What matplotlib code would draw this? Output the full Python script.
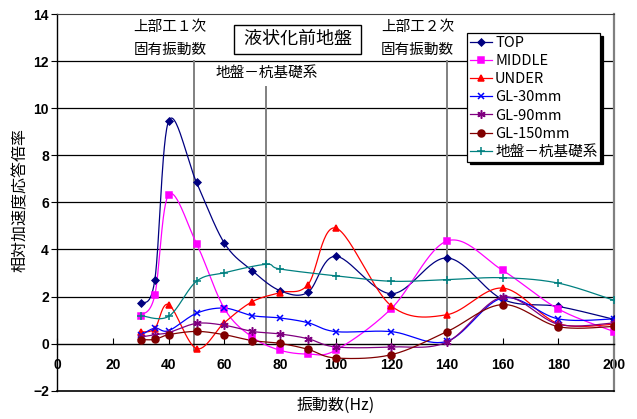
import matplotlib
matplotlib.use("Agg")
import matplotlib.pyplot as plt
import numpy as np
from matplotlib.lines import Line2D

plt.rcParams['font.family'] = ['Noto Sans CJK JP', 'DejaVu Sans']

# -----------------------------
# Data (frequency Hz -> relative acceleration response ratio)
# -----------------------------
freq = [30, 35, 40, 50, 60, 70, 80, 90, 100, 120, 140, 160, 180, 200]

top = [1.71, 2.69, 9.46, 6.85, 4.27, 3.10, 2.25, 2.18, 3.71, 2.12, 3.64, 1.88, 1.58, 1.03]
middle = [1.19, 2.05, 6.33, 4.25, 1.49, 0.28, -0.28, -0.44, -0.28, 1.49, 4.36, 3.11, 1.47, 0.51]
under = [0.49, 0.64, 1.66, -0.21, 0.89, 1.78, 2.17, 2.50, 4.91, 1.60, 1.23, 2.36, 0.85, 0.82]
gl30 = [0.35, 0.66, 0.55, 1.29, 1.51, 1.19, 1.09, 0.89, 0.51, 0.51, 0.10, 1.94, 1.05, 1.05]
gl90 = [0.28, 0.38, 0.47, 0.86, 0.78, 0.52, 0.41, 0.21, -0.14, -0.14, 0.07, 1.98, 0.82, 0.88]
gl150 = [0.17, 0.18, 0.38, 0.52, 0.38, 0.13, 0.01, -0.24, -0.61, -0.47, 0.51, 1.66, 0.72, 0.73]

pile_freq = [30, 40, 50, 60, 75, 80, 100, 120, 140, 160, 180, 200]
pile = [1.19, 1.16, 2.65, 3.01, 3.37, 3.17, 2.88, 2.65, 2.72, 2.80, 2.57, 1.84]

# reference frequencies (vertical lines)
mode1_freq = 49
ground_freq = 75
mode2_freq = 140

xticks = list(range(0, 201, 20))
yticks = list(range(-2, 15, 2))


def smooth(x, y, n=30):
    # piecewise Bezier through the points (spreadsheet-style smoothed line)
    p = np.column_stack([x, y]).astype(float)
    p_ext = np.vstack([p[0], p, p[-1]])
    out = [p[:1]]
    t = np.linspace(0, 1, n)[1:, None]
    for i in range(len(p) - 1):
        p0, p1 = p_ext[i + 1], p_ext[i + 2]
        c1 = p0 + (p_ext[i + 2] - p_ext[i]) / 6
        c2 = p1 - (p_ext[i + 3] - p_ext[i + 1]) / 6
        seg = ((1 - t) ** 3) * p0 + 3 * ((1 - t) ** 2) * t * c1 \
            + 3 * (1 - t) * t ** 2 * c2 + t ** 3 * p1
        out.append(seg)
    c = np.vstack(out)
    return c[:, 0], c[:, 1]


series = [
    ("TOP", freq, top, '#000080', 'D', 3.5),
    ("MIDDLE", freq, middle, '#FF00FF', 's', 5),
    ("UNDER", freq, under, '#FF0000', '^', 5),
    ("GL-30mm", freq, gl30, '#0000FF', 'x', 5),
    ("GL-90mm", freq, gl90, '#800080', (6, 2, 0), 6),
    ("GL-150mm", freq, gl150, '#800000', 'o', 5),
    ("地盤－杭基礎系", pile_freq, pile, '#008080', '+', 6),
]

# -----------------------------
# Figure
# -----------------------------
fig = plt.figure(figsize=(6.37, 4.19), dpi=100)
ax = fig.add_axes([0.09, 0.0675, 0.874, 0.899])

ax.set_xlim(0, 200)
ax.set_ylim(-2, 14)

for yv in yticks[2:-1]:
    ax.axhline(yv, color='black', lw=0.9, zorder=1)

# reference lines
ax.plot([mode1_freq, mode1_freq], [-0.25, 12], color='#808080', lw=1.4, zorder=1)
ax.plot([ground_freq, ground_freq], [0, 10.9], color='#808080', lw=1.4, zorder=1)
ax.plot([mode2_freq, mode2_freq], [0, 12], color='#808080', lw=1.4, zorder=1)

handles = []
for name, xs, ys, col, mk, ms in series:
    sx, sy = smooth(xs, ys)
    ax.plot(sx, sy, color=col, lw=0.9, zorder=3)
    ax.plot(xs, ys, ls='none', marker=mk, color=col, ms=ms, mew=1.1, zorder=4)
    handles.append(Line2D([0], [0], color=col, lw=0.9, marker=mk, ms=ms, mew=1.1, label=name))

# axes frame
ax.spines['bottom'].set_position(('data', 0))
ax.spines['bottom'].set_linewidth(1.0)
ax.spines['left'].set_linewidth(1.0)
ax.spines['top'].set_color('#404040')
ax.spines['right'].set_color('#808080')
ax.spines['right'].set_linewidth(1.6)
ax.axhline(-2, color='black', lw=1.2, clip_on=False, zorder=5)

ax.set_xticks(xticks)
ax.set_yticks(yticks)
ax.tick_params(axis='x', direction='in', length=4, width=0.8, pad=10)
ax.tick_params(axis='y', direction='out', length=4, width=0.8, pad=2)
for lab in ax.get_xticklabels() + ax.get_yticklabels():
    lab.set_fontfamily('Liberation Sans')
    lab.set_fontweight('bold')
    lab.set_fontsize(10)

# annotations
ax.text(40.5, 13.43, "上部工１次", ha='center', va='center', fontsize=10.5)
ax.text(40.5, 12.49, "固有振動数", ha='center', va='center', fontsize=10.5)
ax.text(129.4, 13.43, "上部工２次", ha='center', va='center', fontsize=10.5)
ax.text(129.4, 12.49, "固有振動数", ha='center', va='center', fontsize=10.5)
ax.text(75.2, 11.5, "地盤－杭基礎系", ha='center', va='center', fontsize=10.5)
ax.text(86.4, 12.93, " 液状化前地盤 ", ha='center', va='center', fontsize=13,
        bbox=dict(boxstyle='square,pad=0.3', facecolor='white', edgecolor='black', lw=1.0),
        zorder=6)

fig.text(0.032, 0.523, "相対加速度応答倍率", rotation=90, ha='center', va='center', fontsize=11.5)
fig.text(0.527, 0.033, "振動数(Hz)", ha='center', va='center', fontsize=11.5)

leg = ax.legend(handles=handles, loc='upper left', bbox_to_anchor=(0.7336, 0.9205),
                bbox_transform=fig.transFigure, borderaxespad=0, fontsize=10.5,
                frameon=True, fancybox=False, edgecolor='black', framealpha=1,
                shadow={'color': 'black', 'alpha': 1, 'ox': 2, 'oy': -2},
                handlelength=1.5, handletextpad=0.2, labelspacing=0.28,
                borderpad=0.2)
leg.get_frame().set_linewidth(0.9)
leg.set_zorder(10)

fig.savefig("out.png", dpi=100)
